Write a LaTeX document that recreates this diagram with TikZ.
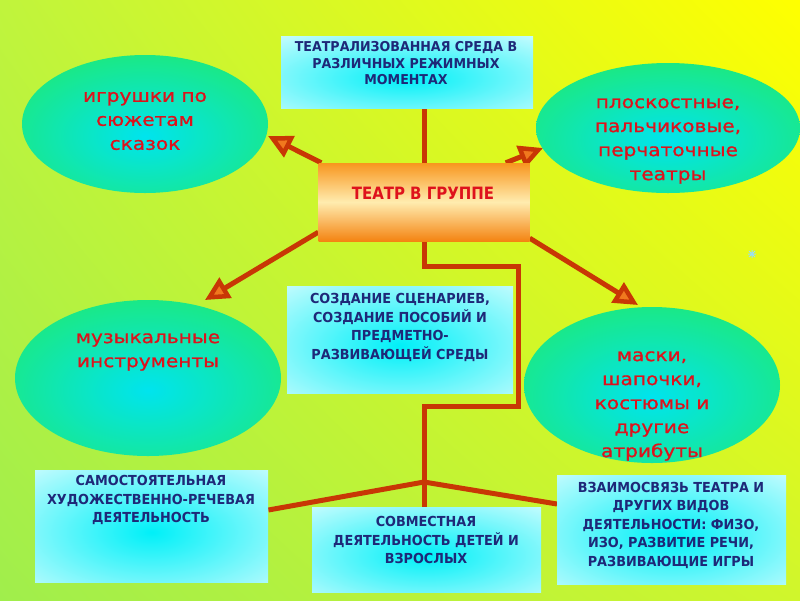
\documentclass[tikz,border=0pt]{standalone}
\usepackage{fontspec}
\setmainfont{DejaVu Sans}
\newfontfamily\boxfont[FakeStretch=0.93]{DejaVu Sans}
\newfontfamily\ctrfont[FakeStretch=0.88]{DejaVu Sans}
\newfontfamily\ellfont[FakeStretch=1.15,FakeBold=0.9]{DejaVu Sans}
\usetikzlibrary{arrows.meta,shapes.geometric,calc,shadings}
\definecolor{bgTL}{RGB}{192,244,60}
\definecolor{bgTR}{RGB}{255,255,0}
\definecolor{bgBL}{RGB}{160,238,76}
\definecolor{bgBR}{RGB}{208,246,44}
\definecolor{lineRed}{RGB}{200,55,5}
\definecolor{tipFill}{RGB}{240,120,30}
\definecolor{ellIn}{RGB}{0,228,238}
\definecolor{ellOut}{RGB}{36,234,96}
\definecolor{boxIn}{RGB}{0,240,248}
\definecolor{navyText}{RGB}{30,40,120}
\definecolor{redText}{RGB}{222,18,28}
\definecolor{orTop}{RGB}{248,150,30}
\definecolor{orMid}{RGB}{255,236,175}
\definecolor{orBot}{RGB}{244,132,18}
\pgfdeclarelayer{bglayer}
\pgfdeclarelayer{linelayer}
\pgfsetlayers{bglayer,linelayer,main}
\tikzset{
  conn/.style={draw=lineRed, line width=5pt},
  arr/.style={conn, -{Triangle[length=24pt,width=23pt,line width=4.5pt,fill=tipFill]}},
  ell/.style={ellipse, inner sep=0pt,
    path picture={\shade[inner color=ellIn, outer color=ellOut]
      ($(path picture bounding box.center)!1.6!(path picture bounding box.south west)+(0,12)$)
      rectangle
      ($(path picture bounding box.center)!1.6!(path picture bounding box.north east)+(0,12)$);}},
  cyanbox/.style={rectangle, inner sep=0pt, anchor=north west,
    path picture={\shade[inner color=boxIn, outer color=white]
      ($(path picture bounding box.center)!2!(path picture bounding box.south west)+(0,6)$)
      rectangle
      ($(path picture bounding box.center)!2!(path picture bounding box.north east)+(0,6)$);}},
  orbox/.style={rectangle, inner sep=0pt, top color=orTop, bottom color=orBot, middle color=orMid},
  btxt/.style={font={\boxfont\bfseries\fontsize{13.8}{18.5}\selectfont}, text=navyText, align=center, inner sep=0pt},
  etxt/.style={font={\ellfont\fontsize{17.5}{24}\selectfont}, text=redText, align=center, inner sep=0pt},
}
\begin{document}
\begin{tikzpicture}[x=1pt,y=-1pt]
\begin{pgfonlayer}{bglayer}
\shade[upper left=bgTL, upper right=bgTR, lower left=bgBL, lower right=bgBR] (0,0) rectangle (800,600);
\end{pgfonlayer}
\useasboundingbox (0,0) rectangle (800,600);

% ellipses
\node[ell, minimum width=246pt, minimum height=138pt] (e1) at (145,124) {};
\node[ell, minimum width=264pt, minimum height=130pt] (e2) at (668,128) {};
\node[ell, minimum width=266pt, minimum height=156pt] (e3) at (148,378) {};
\node[ell, minimum width=256pt, minimum height=156pt] (e4) at (652,385) {};
\node[etxt] (e1t) at (145,121) {игрушки по\\сюжетам\\сказок};
\node[etxt] (e2t) at (668,141) {плоскостные,\\пальчиковые,\\перчаточные\\театры};
\node[etxt] (e3t) at (148,352) {музыкальные\\инструменты};
\node[etxt] (e4t) at (652,406) {маски,\\шапочки,\\костюмы и\\другие\\атрибуты};

% boxes
\node[cyanbox, minimum width=252pt, minimum height=72pt] (tb) at (281,36) {};
\node[btxt, font={\boxfont\bfseries\fontsize{13.6}{16.5}\selectfont}] (tbt) at (406,63.5) {ТЕАТРАЛИЗОВАННАЯ СРЕДА В\\РАЗЛИЧНЫХ РЕЖИМНЫХ\\МОМЕНТАХ};
\node[orbox, minimum width=211pt, minimum height=78pt] (cb) at (424,202) {};
\node[font={\ctrfont\bfseries\fontsize{17}{20}\selectfont}, text=redText, inner sep=0pt] (cbt) at (423,193) {ТЕАТР В ГРУППЕ};
\node[cyanbox, minimum width=226pt, minimum height=107pt] (mb) at (287,286) {};
\node[btxt] (mbt) at (400,327.5) {СОЗДАНИЕ СЦЕНАРИЕВ,\\СОЗДАНИЕ ПОСОБИЙ И\\ПРЕДМЕТНО-\\РАЗВИВАЮЩЕЙ СРЕДЫ};
\node[cyanbox, minimum width=233pt, minimum height=112pt] (bl) at (35,470) {};
\node[btxt] (blt) at (151,500) {САМОСТОЯТЕЛЬНАЯ\\ХУДОЖЕСТВЕННО-РЕЧЕВАЯ\\ДЕЯТЕЛЬНОСТЬ};
\node[cyanbox, minimum width=229pt, minimum height=85pt] (bm) at (312,507) {};
\node[btxt] (bmt) at (426,540) {СОВМЕСТНАЯ\\ДЕЯТЕЛЬНОСТЬ ДЕТЕЙ И\\ВЗРОСЛЫХ};
\node[cyanbox, minimum width=229pt, minimum height=109pt] (br) at (557,475) {};
\node[btxt] (brt) at (671,525) {ВЗАИМОСВЯЗЬ ТЕАТРА И\\ДРУГИХ ВИДОВ\\ДЕЯТЕЛЬНОСТИ: ФИЗО,\\ИЗО, РАЗВИТИЕ РЕЧИ,\\РАЗВИВАЮЩИЕ ИГРЫ};

% connector coordinates
\coordinate (t1) at (268,136);
\coordinate (t2) at (205,300);
\coordinate (t3) at (543,148);
\coordinate (t4) at (638,305);
\coordinate (k1) at (424,266);
\coordinate (k2) at (518,266);
\coordinate (k3) at (518,406);
\coordinate (k4) at (424,406);
\coordinate (j) at (424,482);

\begin{pgfonlayer}{linelayer}
\draw[conn] (cb.north |- tb.south) -- (cb.north);
\draw[arr] ([xshift=3pt]cb.north west) -- (t1);
\draw[arr] ([yshift=9pt]cb.south west) -- (t2);
\draw[arr] ([xshift=-24pt]cb.north east) -- (t3);
\draw[arr] ([yshift=3pt]cb.south east) -- (t4);
\draw[conn, line join=miter] (cb.south) -- (k1) -- (k2) -- (k3) -- (k4) -- (j);
\draw[conn] (j) -- ([yshift=-40pt]bl.north east);
\draw[conn] (j) -- ([yshift=-29pt]br.north west);
\draw[conn] (j) -- (j |- bm.north);
\end{pgfonlayer}

% small sparkle
\node[inner sep=0pt, minimum size=1pt] (sp) at (752,254) {};
\draw[cyan!40!white, line width=1pt] ([xshift=-4pt]sp.center) -- ([xshift=4pt]sp.center)
  ([yshift=-4pt]sp.center) -- ([yshift=4pt]sp.center)
  ([xshift=-3pt,yshift=-3pt]sp.center) -- ([xshift=3pt,yshift=3pt]sp.center)
  ([xshift=-3pt,yshift=3pt]sp.center) -- ([xshift=3pt,yshift=-3pt]sp.center);
\end{tikzpicture}
\end{document}
